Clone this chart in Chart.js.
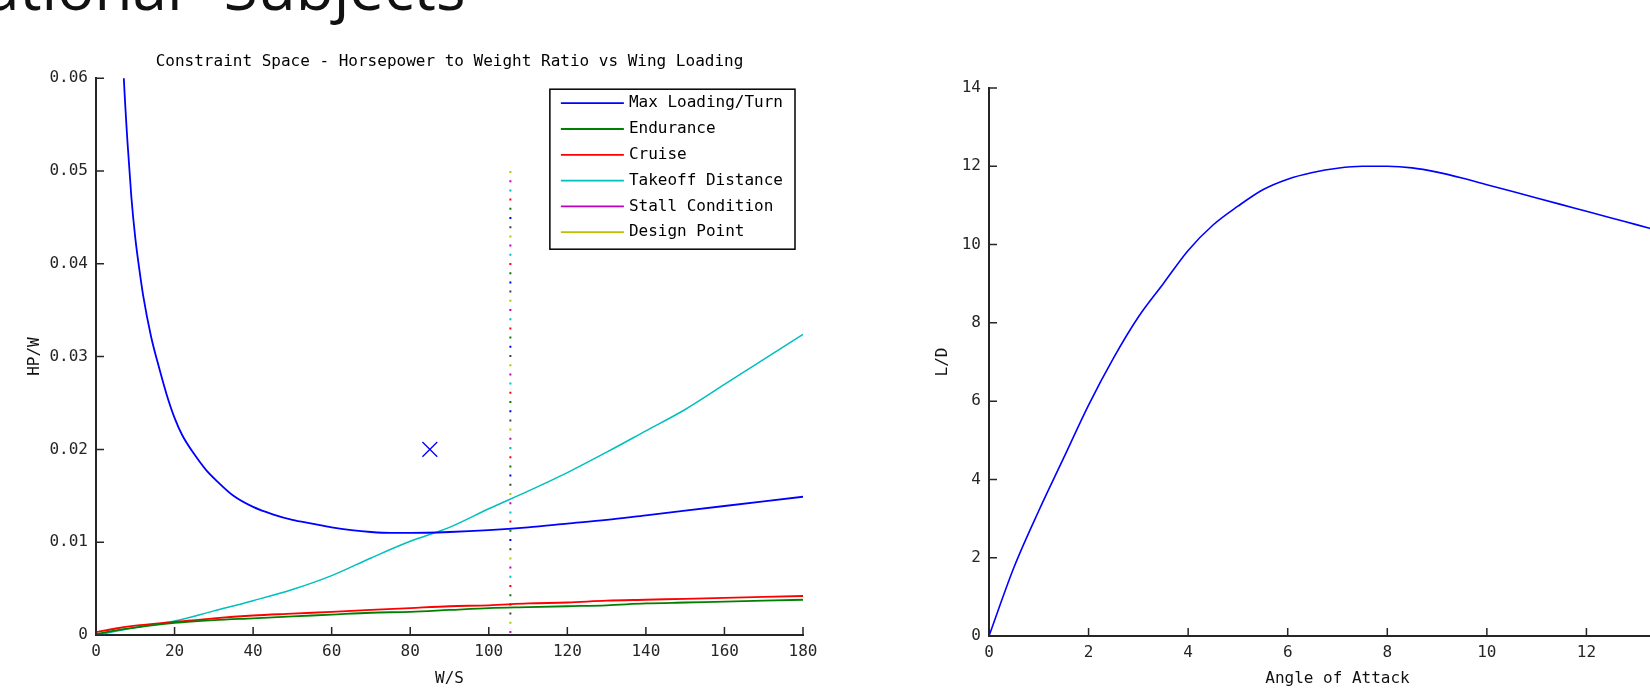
<!DOCTYPE html>
<html>
<head>
<meta charset="utf-8">
<script src="https://cdn.jsdelivr.net/npm/chart.js@4.4.1/dist/chart.umd.min.js"></script>
<style>
    html, body { margin: 0; padding: 0; width: 1650px; height: 692px; overflow: hidden; background: #fff; }
    #header { position: absolute; left: -15px; top: -45px; font-family: "Open Sans", sans-serif; font-size: 62px; line-height: 62px; word-spacing: 25px; color: #111; white-space: nowrap; }
    #canvasConstraint { position: absolute; left: 0; top: 0; }
    #canvasLD { position: absolute; left: 900px; top: 0; }
</style>
</head>
<body>
<div id="header">ational Subjects</div>
<canvas id="canvasConstraint" width="900" height="692"></canvas>
<canvas id="canvasLD" width="850" height="692"></canvas>
<script>
// left plot - constraint space
var turnWS = [6, 7, 8, 9, 10, 11, 12, 14, 16, 18, 20, 22, 25, 28, 31, 35, 40, 45, 50, 55, 60, 65, 70, 75, 80, 90, 100, 110, 120, 130, 140, 150, 160, 170, 180];
var turnHP = [0.071, 0.0607, 0.0532, 0.0472, 0.0428, 0.0395, 0.0366, 0.0322, 0.0289, 0.0259, 0.0234, 0.0215, 0.0195, 0.0178, 0.0165, 0.0150, 0.0138, 0.0130, 0.0124, 0.0120, 0.0116, 0.0113, 0.0111, 0.0110, 0.0110, 0.0111, 0.0113, 0.0116, 0.0120, 0.0124, 0.0129, 0.0134, 0.0139, 0.0144, 0.0149];
var lowWS = [0, 5, 10, 20, 30, 40, 50, 60, 70, 80, 90, 100, 110, 120, 130, 140, 150, 160, 170, 180];
var enduranceHP = [0.0001, 0.0005, 0.0008, 0.0013, 0.0016, 0.0018, 0.0020, 0.0022, 0.0024, 0.0025, 0.0027, 0.0029, 0.0030, 0.0031, 0.0032, 0.0034, 0.0035, 0.0036, 0.0037, 0.0038];
var cruiseHP = [0.0003, 0.0007, 0.0010, 0.0014, 0.0018, 0.0021, 0.0023, 0.0025, 0.0027, 0.0029, 0.0031, 0.0032, 0.0034, 0.0035, 0.0037, 0.0038, 0.0039, 0.0040, 0.0041, 0.0042];
var takeoffHP = [0, 0.0004, 0.0008, 0.0015, 0.0026, 0.0037, 0.0049, 0.0064, 0.0083, 0.0101, 0.0116, 0.0136, 0.0155, 0.0175, 0.0197, 0.0220, 0.0243, 0.0270, 0.0297, 0.0324];
var stallWS = 105.5;
var stallHP = [0.05, 0];
var designWS = 85;
var designHP = 0.02;

var seriesNames = ["Max Loading/Turn", "Endurance", "Cruise", "Takeoff Distance", "Stall Condition", "Design Point"];
var legendColors = ["#0000FF", "#008000", "#FF0000", "#00BFBF", "#BF00BF", "#BFBF00"];
var stallColors = ["#BFBF00", "#BF00BF", "#00BFBF", "#FF0000", "#008000", "#0000FF", "#404040"];

// right plot - L/D
var aoa = [0, 0.5, 1, 1.5, 2, 2.5, 3, 3.5, 4, 4.5, 5, 5.5, 6, 6.5, 7, 7.5, 8, 8.5, 9, 9.5, 10, 10.5, 11, 11.5, 12, 12.5, 13, 13.5, 14];
var liftDrag = [0, 1.75, 3.2, 4.55, 5.9, 7.1, 8.15, 9.0, 9.85, 10.5, 10.98, 11.4, 11.67, 11.84, 11.95, 12.0, 12.0, 11.96, 11.85, 11.7, 11.53, 11.36, 11.19, 11.02, 10.85, 10.68, 10.51, 10.34, 10.17];

var monoFont = '"DejaVu Sans Mono", monospace';
var axisColor = "#262626";
Chart.defaults.font.family = monoFont;
Chart.defaults.font.size = 16;
Chart.defaults.color = axisColor;

function pares(xs, ys) {
    return xs.map((x, i) => ({ x: x, y: ys[i] }));
}

// matlab style ticks, pointing into the plot
var inwardTicks = {
    id: "inwardTicks",
    afterDatasetsDraw(chart) {
        const ctx = chart.ctx;
        const area = chart.chartArea;
        const xs = chart.scales.x;
        const ys = chart.scales.y;
        ctx.save();
        ctx.strokeStyle = axisColor;
        ctx.lineWidth = 1.5;
        ctx.beginPath();
        xs.ticks.forEach(t => {
            const px = xs.getPixelForValue(t.value);
            ctx.moveTo(px, area.bottom);
            ctx.lineTo(px, area.bottom - 8);
        });
        ys.ticks.forEach(t => {
            const py = ys.getPixelForValue(t.value);
            ctx.moveTo(area.left, py);
            ctx.lineTo(area.left + 8, py);
        });
        ctx.stroke();
        ctx.restore();
    }
};

var boxLegend = {
    id: "boxLegend",
    afterDraw(chart) {
        const ctx = chart.ctx;
        const area = chart.chartArea;
        ctx.save();
        ctx.font = "16px " + monoFont;
        let w = 0;
        seriesNames.forEach(n => { w = Math.max(w, ctx.measureText(n).width); });
        const rowH = 25.8;
        const boxW = 79 + w + 12;
        const boxH = 14 + rowH * (seriesNames.length - 1) + 17;
        const left = area.right - 8 - boxW;
        const top = area.top + 11;
        ctx.fillStyle = "#fff";
        ctx.fillRect(left, top, boxW, boxH);
        ctx.strokeStyle = "#000";
        ctx.lineWidth = 1.5;
        ctx.strokeRect(left, top, boxW, boxH);
        seriesNames.forEach((n, i) => {
            const y = top + 14 + i * rowH;
            ctx.strokeStyle = legendColors[i];
            ctx.lineWidth = 1.8;
            ctx.beginPath();
            ctx.moveTo(left + 11, y);
            ctx.lineTo(left + 74, y);
            ctx.stroke();
            ctx.fillStyle = "#000";
            ctx.textBaseline = "middle";
            ctx.fillText(n, left + 79, y);
        });
        ctx.restore();
    }
};

function lineSet(label, xs, ys, color, width) {
    return {
        label: label,
        data: pares(xs, ys),
        borderColor: color,
        borderWidth: width,
        pointRadius: 0,
        cubicInterpolationMode: "monotone"
    };
}

var constraintSets = [
    lineSet(seriesNames[0], turnWS, turnHP, legendColors[0], 1.8),
    lineSet(seriesNames[1], lowWS, enduranceHP, legendColors[1], 1.8),
    lineSet(seriesNames[2], lowWS, cruiseHP, legendColors[2], 1.8),
    lineSet(seriesNames[3], lowWS, takeoffHP, legendColors[3], 1.5)
];

// stall line: dotted, colours cycling along it
stallColors.forEach((c, i) => {
    constraintSets.push({
        label: i == 1 ? seriesNames[4] : "",
        data: stallHP.map(v => ({ x: stallWS, y: v })),
        borderColor: c,
        borderWidth: 2,
        borderDash: [2, 64.4 - 2],
        borderDashOffset: -i * 9.2,
        pointRadius: 0
    });
});

constraintSets.push({
    label: seriesNames[5],
    data: [{ x: designWS, y: designHP }],
    showLine: false,
    pointStyle: "crossRot",
    pointRadius: 10.5,
    pointBorderColor: "#0000FF",
    pointBorderWidth: 1.3,
    pointBackgroundColor: "#0000FF"
});

function axisOpts(min, max, step, title, pad, fitSize, horizontal) {
    return {
        type: "linear",
        min: min,
        max: max,
        ticks: { stepSize: step, padding: horizontal ? 7 : 8, color: axisColor, maxRotation: 0 },
        grid: { display: false, drawTicks: false },
        border: { display: true, color: axisColor, width: 2 },
        title: {
            display: true,
            text: title,
            color: "#111",
            font: { size: 16 },
            padding: horizontal ? { top: 0, bottom: pad } : { top: pad, bottom: 0 }
        },
        afterFit: function (scale) {
            if (horizontal) scale.height = fitSize;
            else scale.width = fitSize;
        }
    };
}

new Chart(document.getElementById("canvasConstraint"), {
    type: "line",
    data: { datasets: constraintSets },
    options: {
        responsive: false,
        animation: false,
        events: [],
        layout: { padding: { left: 0, right: 97, top: 0, bottom: 0 } },
        plugins: {
            legend: { display: false },
            tooltip: { enabled: false },
            title: {
                display: true,
                fullSize: false,
                text: "Constraint Space - Horsepower to Weight Ratio vs Wing Loading",
                color: "#000",
                font: { size: 16, weight: "normal" },
                padding: { top: 52, bottom: 7 }
            }
        },
        scales: {
            x: axisOpts(0, 180, 20, "W/S", 4, 57, true),
            y: axisOpts(0, 0.06, 0.01, "HP/W", 25, 96, false)
        }
    },
    plugins: [inwardTicks, boxLegend]
});

new Chart(document.getElementById("canvasLD"), {
    type: "line",
    data: {
        datasets: [{
            label: "L/D",
            data: pares(aoa, liftDrag),
            borderColor: "#0000FF",
            borderWidth: 1.6,
            pointRadius: 0,
            cubicInterpolationMode: "monotone"
        }]
    },
    options: {
        responsive: false,
        animation: false,
        events: [],
        layout: { padding: { left: 0, right: 64, top: 88, bottom: 0 } },
        plugins: {
            legend: { display: false },
            tooltip: { enabled: false }
        },
        scales: {
            x: axisOpts(0, 14, 2, "Angle of Attack", 4, 56, true),
            y: axisOpts(0, 14, 2, "L/D", 33, 89, false)
        }
    },
    plugins: [inwardTicks]
});
</script>
</body>
</html>
